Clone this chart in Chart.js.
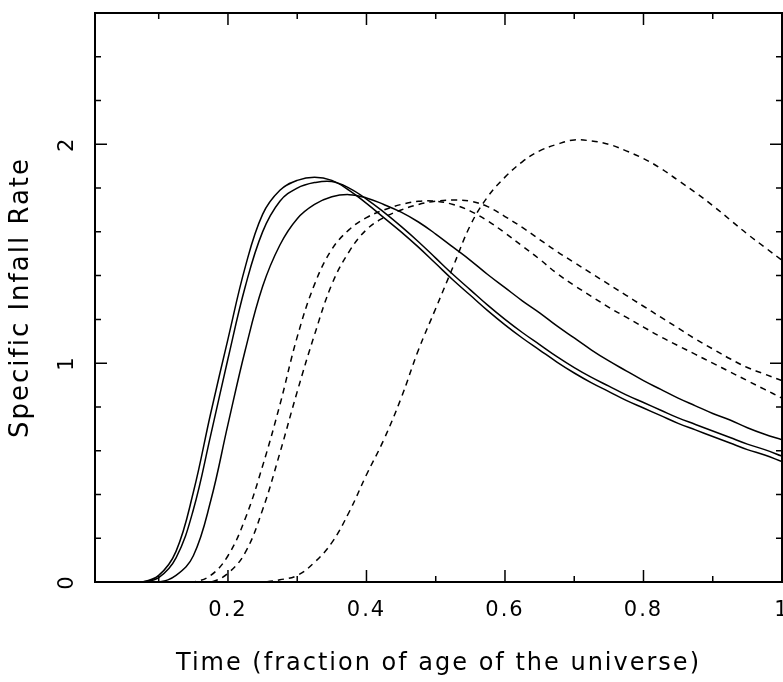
<!DOCTYPE html>
<html>
<head>
<meta charset="utf-8">
<script src="https://cdn.jsdelivr.net/npm/chart.js@4"></script>
<style>
  html, body { margin: 0; padding: 0; background: #fff; overflow: hidden; }
  #wrap { width: 783px; height: 682px; }
</style>
</head>
<body>
<div id="wrap"><canvas id="infallChart"></canvas></div>
<script>
const timeValues = [0.05, 0.075, 0.1, 0.125, 0.15, 0.175, 0.2, 0.225, 0.25, 0.275,
    0.3, 0.325, 0.35, 0.375, 0.4, 0.425, 0.45, 0.475, 0.5, 0.525,
    0.55, 0.575, 0.6, 0.625, 0.65, 0.675, 0.7, 0.725, 0.75, 0.775,
    0.8, 0.825, 0.85, 0.875, 0.9, 0.925, 0.95, 0.975, 1.0]

// solid curves
const solidA = [0, 0, 0.03, 0.14, 0.41, 0.77, 1.11, 1.44, 1.68, 1.79,
    1.835, 1.85, 1.835, 1.79, 1.73, 1.665, 1.60, 1.53, 1.455, 1.38,
    1.31, 1.24, 1.175, 1.115, 1.06, 1.005, 0.955, 0.91, 0.87, 0.83,
    0.795, 0.76, 0.725, 0.695, 0.665, 0.635, 0.605, 0.58, 0.55]
const solidB = [0, 0, 0.02, 0.11, 0.33, 0.67, 1.02, 1.35, 1.60, 1.74,
    1.80, 1.825, 1.83, 1.80, 1.75, 1.69, 1.625, 1.555, 1.48, 1.405,
    1.335, 1.265, 1.20, 1.14, 1.085, 1.03, 0.98, 0.935, 0.895, 0.855,
    0.82, 0.785, 0.75, 0.72, 0.69, 0.66, 0.63, 0.605, 0.575]
const solidC = [0, 0, 0, 0.03, 0.12, 0.37, 0.72, 1.06, 1.35, 1.54,
    1.66, 1.725, 1.76, 1.77, 1.755, 1.725, 1.69, 1.645, 1.59, 1.53,
    1.47, 1.405, 1.345, 1.285, 1.23, 1.17, 1.115, 1.06, 1.01, 0.965,
    0.92, 0.88, 0.84, 0.805, 0.77, 0.74, 0.705, 0.675, 0.65]

// dashed curves
const dashedD = [0, 0, 0, 0, 0, 0.03, 0.12, 0.29, 0.53, 0.81,
    1.12, 1.36, 1.52, 1.61, 1.665, 1.70, 1.725, 1.74, 1.74, 1.725,
    1.695, 1.65, 1.595, 1.535, 1.475, 1.41, 1.355, 1.305, 1.255, 1.21,
    1.165, 1.12, 1.08, 1.04, 1.00, 0.96, 0.92, 0.88, 0.84]
const dashedE = [0, 0, 0, 0, 0, 0, 0.04, 0.135, 0.33, 0.59,
    0.87, 1.13, 1.36, 1.51, 1.61, 1.665, 1.70, 1.725, 1.74, 1.745,
    1.74, 1.715, 1.67, 1.62, 1.565, 1.51, 1.46, 1.41, 1.36, 1.31,
    1.26, 1.21, 1.16, 1.11, 1.065, 1.02, 0.98, 0.95, 0.92]
const dashedF = [0, 0, 0, 0, 0, 0, 0, 0, 0, 0.01,
    0.03, 0.09, 0.18, 0.32, 0.49, 0.65, 0.84, 1.06, 1.25, 1.44,
    1.63, 1.76, 1.85, 1.92, 1.97, 2.00, 2.02, 2.015, 2.00, 1.97,
    1.935, 1.89, 1.835, 1.78, 1.72, 1.655, 1.59, 1.53, 1.47]

const xTickLabels = [0.2, 0.4, 0.6, 0.8, 1]
const xMinorTicks = [0.1, 0.3, 0.5, 0.7, 0.9]
const yTickLabels = [0, 1, 2]
const yMinorTicks = [0.2, 0.4, 0.6, 0.8, 1.2, 1.4, 1.6, 1.8, 2.2, 2.4]

const toPoints = (vals) => timeValues.map((t, i) => ({ x: t, y: vals[i] }))

const curve = (vals, dashed) => ({
    data: toPoints(vals),
    borderColor: '#000',
    borderWidth: 1.5,
    borderDash: dashed ? [6, 5] : [],
    pointRadius: 0,
    fill: false,
    tension: 0.4
})

// frame with inward tick marks on all four sides
const frameTicks = {
    id: 'frameTicks',
    beforeDraw(chart) {
        chart.ctx.letterSpacing = '2px'
    },
    afterDatasetsDraw(chart) {
        const { ctx, chartArea: { left, right, top, bottom }, scales: { x, y } } = chart
        ctx.save()
        ctx.strokeStyle = '#000'
        ctx.lineWidth = 2
        ctx.strokeRect(left, top, right - left, bottom - top)
        ctx.lineWidth = 1.5
        const xMarks = (vals, len) => vals.forEach(v => {
            const px = x.getPixelForValue(v)
            ctx.beginPath()
            ctx.moveTo(px, bottom); ctx.lineTo(px, bottom - len)
            ctx.moveTo(px, top); ctx.lineTo(px, top + len)
            ctx.stroke()
        })
        const yMarks = (vals, len) => vals.forEach(v => {
            const py = y.getPixelForValue(v)
            ctx.beginPath()
            ctx.moveTo(left, py); ctx.lineTo(left + len, py)
            ctx.moveTo(right, py); ctx.lineTo(right - len, py)
            ctx.stroke()
        })
        xMarks(xTickLabels, 12)
        xMarks(xMinorTicks, 6)
        yMarks(yTickLabels, 12)
        yMarks(yMinorTicks, 6)
        ctx.restore()
    }
}

const fontFamily = "'DejaVu Sans', sans-serif"

new Chart(document.getElementById('infallChart'), {
    type: 'line',
    data: {
        datasets: [
            curve(solidA, false),
            curve(solidB, false),
            curve(solidC, false),
            curve(dashedD, true),
            curve(dashedE, true),
            curve(dashedF, true)
        ]
    },
    options: {
        responsive: true,
        maintainAspectRatio: false,
        animation: false,
        layout: { padding: { top: 13, right: 1, bottom: 0, left: 0 } },
        plugins: {
            legend: { display: false },
            tooltip: { enabled: false }
        },
        scales: {
            x: {
                type: 'linear',
                min: 0.008,
                max: 1,
                afterBuildTicks: (s) => { s.ticks = xTickLabels.map(v => ({ value: v })) },
                afterFit: (s) => { s.height = 100; s.paddingLeft = 0; s.paddingRight = 0 },
                grid: { display: false, drawTicks: false },
                border: { display: false },
                ticks: {
                    color: '#000',
                    padding: 16,
                    maxRotation: 0,
                    font: { family: fontFamily, size: 21 },
                    callback: (v) => String(v)
                },
                title: {
                    display: true,
                    text: 'Time (fraction of age of the universe)',
                    color: '#000',
                    font: { family: fontFamily, size: 24 },
                    padding: { top: 0, bottom: 4 }
                }
            },
            y: {
                min: 0,
                max: 2.6,
                afterBuildTicks: (s) => { s.ticks = yTickLabels.map(v => ({ value: v })) },
                afterFit: (s) => { s.width = 95; s.paddingTop = 0; s.paddingBottom = 0 },
                grid: { display: false, drawTicks: false },
                border: { display: false },
                ticks: {
                    color: '#000',
                    padding: 21,
                    minRotation: 90,
                    maxRotation: 90,
                    crossAlign: 'center',
                    font: { family: fontFamily, size: 21 },
                    callback: (v) => String(v)
                },
                title: {
                    display: true,
                    text: 'Specific Infall Rate',
                    color: '#000',
                    font: { family: fontFamily, size: 26 },
                    padding: { top: 6, bottom: 0 }
                }
            }
        }
    },
    plugins: [frameTicks]
})
</script>
</body>
</html>
